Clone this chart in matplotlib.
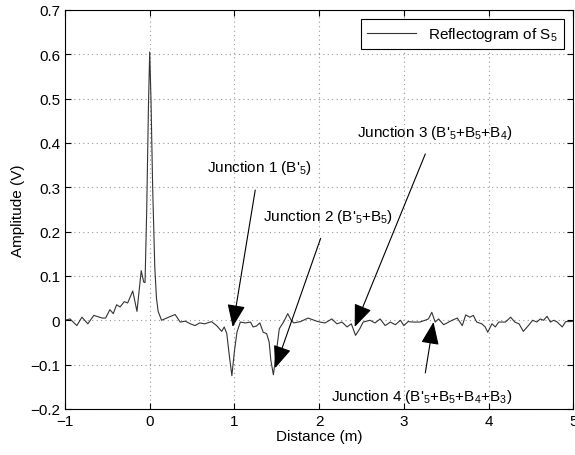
import numpy as np
from matplotlib import pyplot as plt

# reflectogram of S5
dist = [-1.0, -0.94, -0.86, -0.80, -0.73, -0.66, -0.56, -0.52, -0.47, -0.43,
        -0.39, -0.35, -0.30, -0.26, -0.20, -0.15, -0.10, -0.07, -0.055, -0.035,
        -0.015, 0.0, 0.015, 0.035, 0.06, 0.08, 0.10, 0.14, 0.20, 0.30,
        0.36, 0.42, 0.48, 0.535, 0.59, 0.65, 0.73, 0.79, 0.85, 0.88,
        0.91, 0.94, 0.97, 1.00, 1.03, 1.07, 1.13, 1.19, 1.22, 1.26,
        1.30, 1.34, 1.38, 1.41, 1.43, 1.46, 1.50, 1.53, 1.58, 1.63,
        1.67, 1.70, 1.78, 1.87, 1.97, 2.01, 2.07, 2.15, 2.21, 2.27,
        2.33, 2.38, 2.43, 2.48, 2.52, 2.60, 2.66, 2.72, 2.78, 2.84,
        2.90, 2.96, 3.00, 3.05, 3.11, 3.19, 3.25, 3.29, 3.33, 3.37,
        3.41, 3.47, 3.53, 3.57, 3.63, 3.69, 3.73, 3.78, 3.82, 3.86,
        3.92, 3.96, 3.99, 4.04, 4.08, 4.12, 4.20, 4.26, 4.31, 4.36,
        4.41, 4.47, 4.52, 4.57, 4.61, 4.65, 4.69, 4.73, 4.77, 4.81,
        4.87, 4.91, 4.97, 5.0]
amp = [0.0, 0.003, -0.012, 0.007, -0.008, 0.011, 0.005, 0.005, 0.024, 0.015,
       0.035, 0.030, 0.042, 0.039, 0.066, 0.020, 0.112, 0.086, 0.085, 0.25,
       0.48, 0.605, 0.50, 0.30, 0.12, 0.05, 0.02, 0.0, 0.005, 0.013,
       -0.004, -0.002, -0.008, -0.012, -0.006, -0.008, -0.003, -0.012, -0.025, -0.015,
       -0.030, -0.080, -0.125, -0.070, -0.027, -0.004, -0.006, -0.004, -0.015, -0.013,
       -0.006, -0.027, -0.030, -0.049, -0.090, -0.123, -0.064, -0.019, -0.004, 0.015,
       0.0, -0.006, -0.003, 0.005, -0.002, -0.004, -0.006, 0.003, -0.008, -0.004,
       -0.015, -0.008, -0.034, -0.019, -0.004, 0.0, -0.006, 0.003, -0.012, -0.004,
       -0.010, 0.0, -0.012, -0.003, -0.004, -0.004, 0.0, 0.003, 0.018, -0.004,
       0.003, -0.010, -0.004, 0.0, 0.005, -0.012, 0.012, 0.007, 0.011, -0.004,
       -0.008, -0.015, -0.027, -0.008, -0.015, -0.004, -0.004, 0.007, -0.004, -0.008,
       -0.025, -0.012, 0.0, -0.004, 0.003, 0.0, 0.009, -0.004, 0.0, -0.004,
       -0.015, -0.003, -0.003, -0.002]

xticks = [-1, 0, 1, 2, 3, 4, 5]
yticks = [-0.2, -0.1, 0, 0.1, 0.2, 0.3, 0.4, 0.5, 0.6, 0.7]
ytick_labels = ['\u22120.2', '\u22120.1', '0', '0.1', '0.2', '0.3', '0.4', '0.5', '0.6', '0.7']

# (label, arrow tip, text position)
junctions = [
    ("Junction 1 (B'$_5$)", (0.98, -0.015), (1.29, 0.345)),
    ("Junction 2 (B'$_5$+B$_5$)", (1.48, -0.108), (2.11, 0.235)),
    ("Junction 3 (B'$_5$+B$_5$+B$_4$)", (2.42, -0.015), (3.36, 0.425)),
    ("Junction 4 (B'$_5$+B$_5$+B$_4$+B$_3$)", (3.35, -0.004), (3.21, -0.17)),
]

plt.rcParams['font.family'] = ['Liberation Sans', 'DejaVu Sans']
plt.rcParams['mathtext.default'] = 'regular'
plt.rcParams['font.size'] = 11

fig = plt.figure(figsize=(5.75, 4.56), dpi=100)
ax = fig.add_axes([0.113, 0.101, 0.884, 0.875])

ax.plot(dist, amp, color='#333333', lw=0.8, label='Reflectogram of S$_5$')

for label, tip, pos in junctions:
    ax.annotate(label, xy=tip, xytext=pos, ha='center', va='center',
                arrowprops=dict(arrowstyle='-|>,head_length=0.7,head_width=0.28',
                                color='k', lw=0.8, mutation_scale=20,
                                shrinkA=8, shrinkB=0))

ax.set_xlim(-1, 5)
ax.set_ylim(-0.2, 0.7)
ax.set_xticks(xticks)
ax.set_yticks(yticks)
ax.set_yticklabels(ytick_labels)
ax.tick_params(direction='in', top=True, right=True, length=4, width=0.8)
for sp in ax.spines.values():
    sp.set_linewidth(0.8)
ax.grid(True, linestyle=(0, (1, 3)), color='#999999', lw=0.8)

ax.set_xlabel('Distance (m)', labelpad=1)
ax.set_ylabel('Amplitude (V)', labelpad=4)

leg = ax.legend(loc='upper right', fancybox=False, framealpha=1,
                edgecolor='k', handlelength=3.2, borderaxespad=0.6)
leg.get_frame().set_linewidth(0.8)

plt.savefig('out.png', dpi=100)
